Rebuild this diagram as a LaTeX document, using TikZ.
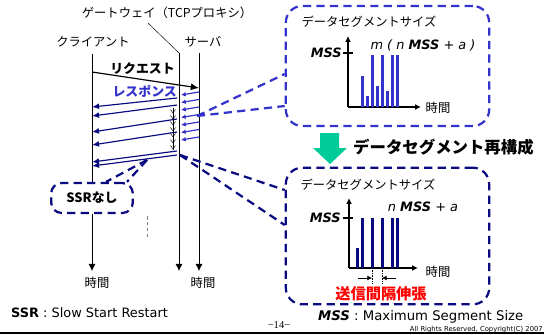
\documentclass[tikz,border=0pt]{standalone}
\usepackage{fontspec}
\setmainfont{DejaVu Sans}
\newfontfamily\jp{Noto Sans CJK JP}
\newfontfamily\pagefont{Liberation Serif}
\usetikzlibrary{arrows.meta,positioning}
\definecolor{respblue}{RGB}{51,51,204}
\definecolor{segnavy}{RGB}{10,10,128}
\definecolor{mintgreen}{RGB}{0,204,153}
\begin{document}
\begin{tikzpicture}[x=0.03cm, y=-0.03cm,
    jplabel/.style={font=\jp\fontsize{10.5}{12}\selectfont, inner sep=0pt},
    jpbold/.style={font=\jp\bfseries\fontsize{11}{13}\selectfont, inner sep=0pt},
    lifeline/.style={line width=0.7pt, -{Latex[length=6pt,width=6pt]}},
    reqarrow/.style={-{Latex[length=7pt,width=6pt]}, line width=1pt},
    resparrow/.style={-{Latex[length=4pt,width=4pt]}, respblue, line width=1pt},
    dataarrow/.style={-{Latex[length=6pt,width=5pt]}, segnavy, line width=1pt},
    callout/.style={dash pattern=on 7pt off 4.5pt, line width=1.9pt},
    axis/.style={line width=1pt, -{Latex[length=5pt,width=5pt]}},
    mathlbl/.style={font=\fontsize{11}{13}\selectfont, inner sep=0pt}]
  \useasboundingbox (0,0) rectangle (544,334);

  % 時系列の縦線
  \coordinate (cliT) at (92,54);
  \coordinate (cliB) at (92,271);
  \coordinate (gwT) at (179,53);
  \coordinate (gwB) at (179,271);
  \coordinate (srvT) at (199,53);
  \coordinate (srvB) at (199,271);

  \node[jplabel] (gw) at (167,13) {ゲートウェイ（TCPプロキシ）};
  \node[jplabel] (cli) at (93,42) {クライアント};
  \node[jplabel] (srv) at (203,42) {サーバ};
  \coordinate (gwlead) at (148,23);
  \draw[thin] (gwlead) -- (gwT);

  \node[jpbold, draw=segnavy, callout, rounded corners=9pt,
        minimum width=2.45cm, minimum height=0.9cm] (ssr) at (92,198) {SSRなし};

  \draw[line width=0.7pt] (cliT) -- (ssr.north);
  \draw[lifeline] (ssr.south) -- (cliB);
  \draw[lifeline] (gwT) -- (gwB);
  \draw[lifeline] (srvT) -- (srvB);
  \node[jplabel] (tcli) at (97,283) {時間};
  \node[jplabel] (tsrv) at (203,283) {時間};
  \draw[gray, densely dashed, thin] (147,216) -- (147,237);

  % リクエストとレスポンス
  \draw[reqarrow] (cliT |- 0,72) -- (srvT |- 0,88);
  \node[jpbold, anchor=east] (req) at (175,69) {リクエスト};
  \node[jpbold, anchor=east, text=respblue] (resp) at (177,91) {レスポンス};
  \foreach \y in {95,102.5,...,140}
    \draw[resparrow] (srvT |- 0,{\y-3}) -- (181,\y);
  \foreach \ya/\yb in {98/107, 105/116, 119/132, 132/145, 151/162, 155/166}
    \draw[dataarrow] (177,\ya) -- (cliT |- 0,\yb);
  \draw[thin] (173,108) -- (173,150);
  \foreach \y in {113,119,...,149}
    \draw[thin] (170.5,{\y-3.5}) -- (173,\y) -- (175.5,{\y-3.5});

  % 上の吹き出し
  \node[draw=respblue, callout, rounded corners=14pt,
        minimum width=6.1cm, minimum height=3.6cm] (boxA) at (387.5,66) {};
  \coordinate (tipA) at (197,116);
  \draw[respblue, callout] (tipA) -- (boxA.west |- 0,74);
  \draw[respblue, callout] (tipA) -- (boxA.west |- 0,106);
  \node[jplabel] (ttlA) at (369,22) {データセグメントサイズ};
  \coordinate (oA) at (348,107);
  \draw[axis] (oA) -- (oA |- 0,36);
  \draw[axis] (oA) -- (421,107);
  \foreach \x/\t in {362.5/76, 367.5/96, 372.5/55, 377.5/86, 382.5/55, 387.5/91, 392.5/55, 397.5/55}
    \fill[respblue] ({\x-1.6},107) rectangle ({\x+1.6},\t);
  \draw[line width=1pt] (343,53) -- (353,53);
  \node[mathlbl, anchor=east] (mssA) at (342,53) {\bfseries\itshape MSS};
  \node[mathlbl] (formA) at (423,45) {\itshape m ( n {\bfseries MSS} + a )};
  \node[jplabel] (timeA) at (438,108) {時間};

  % 再構成
  \fill[mintgreen] (320,133) -- (339,133) -- (339,148) -- (347,148) -- (330,164)
    -- (313,148) -- (320,148) -- cycle;
  \node[font=\jp\bfseries\fontsize{14}{16}\selectfont, inner sep=0pt, anchor=west]
    (rebuild) at (353,147) {データセグメント再構成};

  % 下の吹き出し
  \node[draw=segnavy, callout, rounded corners=14pt,
        minimum width=6.1cm, minimum height=4.1cm] (boxB) at (387.5,236) {};
  \coordinate (tipB) at (180,155);
  \draw[segnavy, callout] (tipB) -- (boxB.west |- 0,190);
  \draw[segnavy, callout] (tipB) -- (boxB.west |- 0,225);
  \coordinate (tipC) at (147,160);
  \draw[segnavy, callout] (tipC) -- (ssr.north -| 106,0);
  \draw[segnavy, callout] (tipC) -- (ssr.north -| 127,0);
  \node[jplabel] (ttlB) at (368,185) {データセグメントサイズ};
  \coordinate (oB) at (349,268);
  \draw[axis] (oB) -- (oB |- 0,198);
  \draw[axis] (oB) -- (418,268);
  \foreach \x/\t in {357/248, 362/218, 372.5/218, 382.5/218, 392.5/218, 397.5/218}
    \fill[segnavy] ({\x-1.5},268) rectangle ({\x+1.5},\t);
  \draw[line width=1pt] (343,218) -- (353,218);
  \node[mathlbl, anchor=east] (mssB) at (341,218) {\bfseries\itshape MSS};
  \node[mathlbl] (formB) at (423,207) {\itshape n {\bfseries MSS} + a};
  \node[jplabel] (timeB) at (438,272) {時間};
  \draw[densely dotted, thin] (372,268) -- (372,284);
  \draw[densely dotted, thin] (382,268) -- (382,284);
  \draw[-{Latex[length=4pt,width=4pt]}] (358,278) -- (372,278);
  \draw[-{Latex[length=4pt,width=4pt]}] (396,278) -- (382,278);
  \node[font=\jp\bfseries\fontsize{13}{15}\selectfont, inner sep=0pt, text=red]
    (stretch) at (381,294) {送信間隔伸張};

  % 注記
  \node[font=\fontsize{11}{13}\selectfont, inner sep=0pt, anchor=west]
    (ssrnote) at (11,313) {\textbf{SSR} : Slow Start Restart};
  \node[font=\fontsize{11.3}{13}\selectfont, inner sep=0pt, anchor=west]
    (mssnote) at (318,317) {\textbf{\itshape MSS} : Maximum Segment Size};
  \node[font=\pagefont\fontsize{9}{10}\selectfont, inner sep=0pt] (page) at (279,325) {−14−};
  \node[font=\fontsize{5.8}{6}\selectfont, inner sep=0pt, anchor=east]
    (copy) at (543,330) {All Rights Reserved, Copyright(C) 2007};
  \draw[line width=1.7pt] (0,333) -- (544,333);
\end{tikzpicture}
\end{document}
